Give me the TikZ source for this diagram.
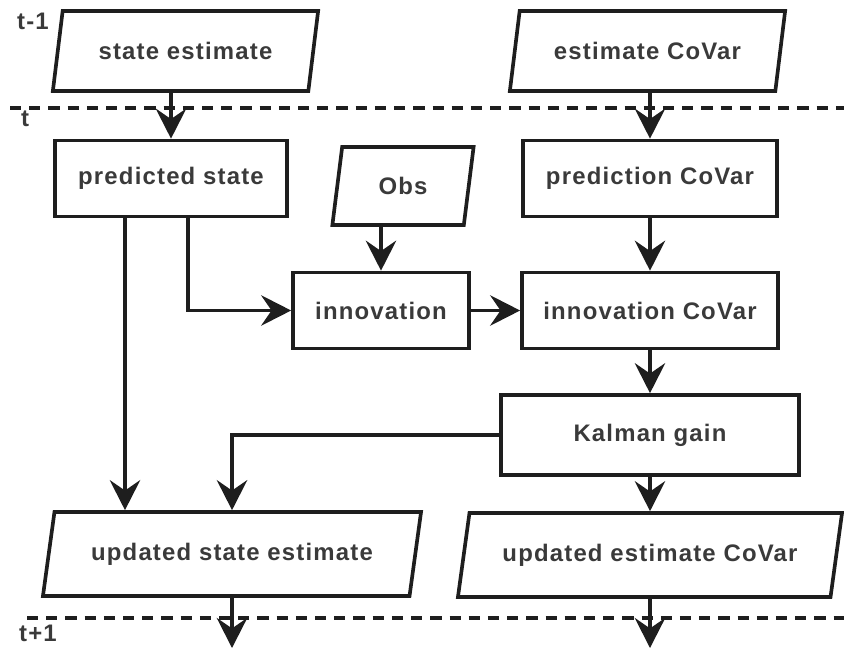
\documentclass[tikz,border=0pt]{standalone}
\usepackage{fontspec}
\setmainfont{Liberation Sans}[LetterSpace=5]
\usetikzlibrary{shapes.geometric,arrows.meta,positioning,calc}
\definecolor{kfInk}{RGB}{30,30,30}
\definecolor{kfText}{RGB}{58,58,58}

\begin{document}
\begin{tikzpicture}[x=0.025cm, y=-0.025cm,
  every node/.style={font=\fontsize{17}{20}\selectfont\bfseries, text=kfText},
  box/.style={draw=kfInk, line width=2.6pt, rectangle, minimum height=1.9cm},
  data/.style={draw=kfInk, line width=2.6pt, trapezium, trapezium left angle=70, trapezium right angle=110, trapezium stretches body, minimum height=2cm},
  arr/.style={draw=kfInk, line width=2.6pt, -{Stealth[length=0.75cm, width=0.76cm, inset=0.26cm]}},
  timeline/.style={draw=kfInk, line width=3pt, dash pattern=on 0.28cm off 0.2cm}]
  \useasboundingbox (0,0) rectangle (844,651);
  % Time steps
  \node (tprev) at (33,21) {t-1};
  \node (tnow) at (25,119) {t};
  \node (tnext) at (38,633) {t+1};
  \coordinate (tla) at (10,108);
  \coordinate (tlb) at (844,108);
  \coordinate (tlc) at (27,618);
  \coordinate (tld) at (844,618);
  \draw[timeline] (tla) -- (tlb);
  \draw[timeline] (tlc) -- (tld);
  % Previous step
  \node[data, minimum width=6.63cm] (se) at (185.5,51) {state estimate};
  \node[data, minimum width=6.88cm] (ec) at (647.5,51) {estimate CoVar};
  % Prediction
  \node[box, minimum width=5.8cm] (ps) at (171,178.5) {predicted state};
  \node[box, minimum width=6.35cm] (pc) at (650,178.5) {prediction CoVar};
  \node[data, minimum width=3.53cm, minimum height=1.95cm] (obs) at (403,186) {Obs};
  % Update
  \node[box, minimum width=4.4cm] (inn) at (381,310.5) {innovation};
  \node[box, minimum width=6.4cm] (ic) at (650,310.5) {innovation CoVar};
  \node[box, minimum width=7.45cm, minimum height=2cm] (kg) at (650,435) {Kalman gain};
  \node[data, minimum width=9.45cm, minimum height=2.1cm] (us) at (232,554) {updated state estimate};
  \node[data, minimum width=9.6cm, minimum height=2.1cm] (uc) at (650,555) {updated estimate CoVar};
  \coordinate (usnext) at (232,648);
  \coordinate (ucnext) at (650,648);
  % Arrows
  \draw[arr] (se.south -| ps.north) -- (ps.north);
  \draw[arr] (ec.south -| pc.north) -- (pc.north);
  \draw[arr] (obs.south -| inn.north) -- (inn.north);
  \draw[arr] ([xshift=0.425cm]ps.south) |- (inn.west);
  \draw[arr] (inn.east) -- (ic.west);
  \draw[arr] (pc.south) -- (ic.north);
  \draw[arr] (ic.south) -- (kg.north);
  \draw[arr] ([xshift=-1.15cm]ps.south) -- ([xshift=-1.15cm]ps.south |- us.north);
  \draw[arr] (kg.west) -| (us);
  \draw[arr] (kg.south) -- (uc.north);
  \draw[arr] (us) -- (usnext);
  \draw[arr] (uc) -- (ucnext);
\end{tikzpicture}
\end{document}
